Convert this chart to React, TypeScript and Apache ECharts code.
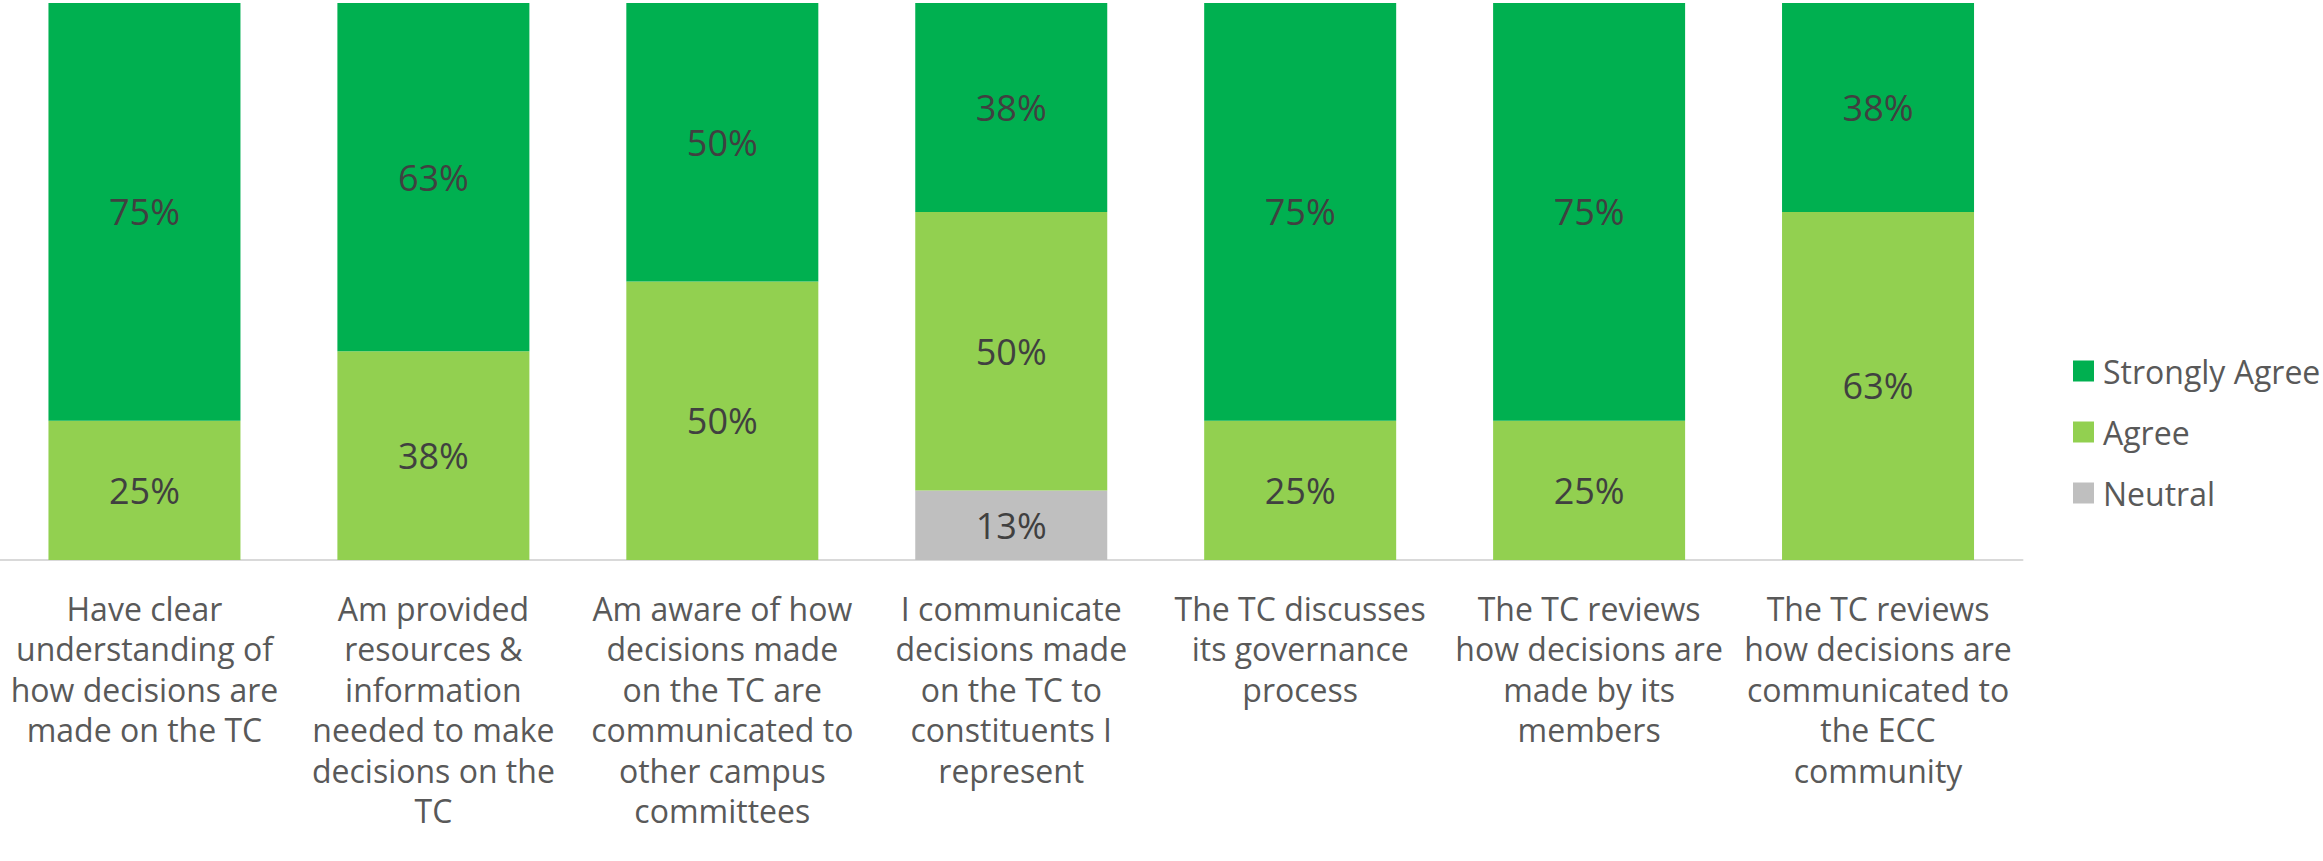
import React, { useEffect, useRef } from "react";
import * as echarts from "echarts";

const categories: string[] = [
  "Have clear\nunderstanding of\nhow decisions are\nmade on the TC",
  "Am provided\nresources &\ninformation\nneeded to make\ndecisions on the\nTC",
  "Am aware of how\ndecisions made\non the TC are\ncommunicated to\nother campus\ncommittees",
  "I communicate\ndecisions made\non the TC to\nconstituents I\nrepresent",
  "The TC discusses\nits governance\nprocess",
  "The TC reviews\nhow decisions are\nmade by its\nmembers",
  "The TC reviews\nhow decisions are\ncommunicated to\nthe ECC\ncommunity",
];

const neutral: number[] = [0, 0, 0, 12.5, 0, 0, 0];
const agree: number[] = [25, 37.5, 50, 50, 25, 25, 62.5];
const stronglyAgree: number[] = [75, 62.5, 50, 37.5, 75, 75, 37.5];

const seriesNames = ["Strongly Agree", "Agree", "Neutral"];
const colors = { "Strongly Agree": "#00B050", Agree: "#92D050", Neutral: "#BFBFBF" } as Record<string, string>;

const FONT = "'Open Sans', sans-serif";

export default function App() {
  const ref = useRef<HTMLDivElement>(null);
  useEffect(() => {
    if (!ref.current) return;
    const chart = echarts.init(ref.current, undefined, { renderer: "svg" });
    const label = {
      show: true,
      position: "inside",
      fontFamily: FONT,
      fontSize: 36,
      color: "#404040",
      formatter: (p: any) => (p.value ? Math.round(p.value) + "%" : ""),
    };
    const mk = (name: string, data: number[]) => ({
      name,
      type: "bar",
      stack: "total",
      data,
      barWidth: 192,
      itemStyle: { color: colors[name] },
      label,
      emphasis: { disabled: true },
    });
    chart.setOption({
      animation: false,
      textStyle: { fontFamily: FONT },
      grid: { left: -3, top: 3, width: 2025.5, height: 557 },
      legend: {
        orient: "vertical",
        left: 2068,
        top: 350,
        data: seriesNames,
        itemWidth: 21,
        itemHeight: 21,
        itemGap: 29,
        icon: "rect",
        textStyle: { fontFamily: FONT, fontSize: 32, color: "#595959", padding: [0, 0, 0, 4] },
        selectedMode: false,
      },
      xAxis: {
        type: "category",
        data: categories,
        axisLine: { lineStyle: { color: "#D9D9D9", width: 2 } },
        axisTick: { show: false },
        axisLabel: {
          interval: 0,
          margin: 28,
          fontFamily: FONT,
          fontSize: 32,
          lineHeight: 40.5,
          color: "#595959",
          align: "center",
        },
      },
      yAxis: {
        type: "value",
        min: 0,
        max: 100,
        show: false,
        splitLine: { show: false },
      },
      series: [mk("Neutral", neutral), mk("Agree", agree), mk("Strongly Agree", stronglyAgree)],
    });
    return () => chart.dispose();
  }, []);
  return (
    <div
      ref={ref}
      style={{ position: "absolute", left: 0, top: 0, width: 2323, height: 861 }}
    />
  );
}
